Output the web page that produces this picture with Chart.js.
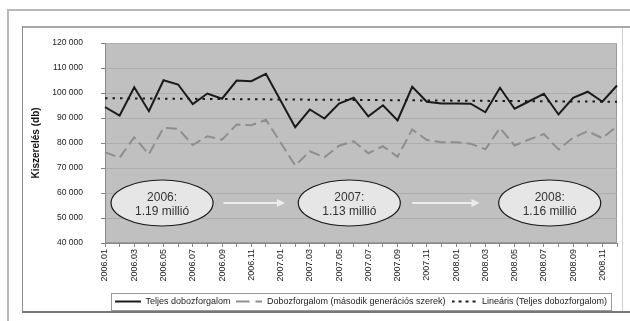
<!DOCTYPE html>
<html lang="hu">
<head>
    <meta charset="UTF-8">
    <title>Kiszerelés</title>
    <script src="https://cdn.jsdelivr.net/npm/chart.js"></script>
    <style>
        body { margin: 0; background: #fff; }
        .wrap { position: relative; width: 630px; height: 321px; overflow: hidden; }
        .line { position: absolute; }
        canvas { position: absolute; left: 0; top: 0; }
    </style>
</head>
<body>
<div class="wrap">
    <!-- outer frame -->
    <div class="line" style="left:7px;top:9px;width:640px;height:2px;background:#b8b8b8"></div>
    <div class="line" style="left:7px;top:9px;width:2px;height:330px;background:#b8b8b8"></div>
    <!-- inner frame -->
    <div class="line" style="left:22px;top:26px;width:620px;height:2px;background:#a8a8a8"></div>
    <div class="line" style="left:22px;top:26px;width:1px;height:287px;background:#8c8c8c"></div>
    <div class="line" style="left:622px;top:28px;width:1px;height:284px;background:#cfcfcf"></div>
    <div class="line" style="left:22px;top:311px;width:620px;height:2px;background:#777"></div>
    <canvas id="chart" width="630" height="321"></canvas>
</div>

<script>
    const months = [
        '2006.01', '2006.02', '2006.03', '2006.04', '2006.05', '2006.06',
        '2006.07', '2006.08', '2006.09', '2006.10', '2006.11', '2006.12',
        '2007.01', '2007.02', '2007.03', '2007.04', '2007.05', '2007.06',
        '2007.07', '2007.08', '2007.09', '2007.10', '2007.11', '2007.12',
        '2008.01', '2008.02', '2008.03', '2008.04', '2008.05', '2008.06',
        '2008.07', '2008.08', '2008.09', '2008.10', '2008.11', '2008.12'
    ];

    // Teljes dobozforgalom
    const total = [
        94400, 91000, 102300, 92700, 105100, 103400, 95600, 99800, 97700, 105000, 104700, 107700,
        97000, 86300, 93400, 89800, 95800, 98100, 90700, 95100, 89000, 102500, 96500, 95800,
        95800, 95700, 92300, 102100, 93700, 96700, 99700, 91400, 98100, 100500, 96500, 103000
    ];

    // Dobozforgalom (második generációs szerek)
    const secondGen = [
        76300, 74100, 82300, 75500, 86100, 85700, 79200, 82700, 81300, 87400, 87100, 89300,
        80200, 71000, 76700, 74300, 78900, 80700, 75900, 78700, 74500, 85400, 81200, 80300,
        80300, 79700, 77500, 86000, 79000, 81400, 83600, 77400, 82100, 84700, 81900, 86700
    ];

    // Lineáris trend, read at first and last month
    const trendEnds = [97900, 96500];

    const yTicks = [40000, 50000, 60000, 70000, 80000, 90000, 100000, 110000, 120000];

    const yearNotes = [
        { year: '2006:', sum: '1.19 millió', at: 3.9 },
        { year: '2007:', sum: '1.13 millió', at: 16.7 },
        { year: '2008:', sum: '1.16 millió', at: 30.4 }
    ];
    const arrowSpans = [[8.1, 12.3], [21.0, 25.6]];

    const font = '"Liberation Sans", Arial, sans-serif';
    const last = months.length - 1;
    const trend = months.map((m, i) => i === 0 ? trendEnds[0] : (i === last ? trendEnds[1] : null));

    function fmt(v) {
        return String(v).replace(/\B(?=(\d{3})+(?!\d))/g, ' ');
    }

    // little line samples for the legend (dash patterns)
    function sample(color, dash) {
        const c = document.createElement('canvas');
        c.width = 26;
        c.height = 4;
        const g = c.getContext('2d');
        g.strokeStyle = color;
        g.lineWidth = 2;
        g.setLineDash(dash);
        g.beginPath();
        g.moveTo(0, 2);
        g.lineTo(26, 2);
        g.stroke();
        return c;
    }
    const samples = [
        sample('#1a1a1a', []),
        sample('#8e8e8e', [13, 6]),
        sample('#1a1a1a', [3, 4])
    ];

    const plotBg = {
        id: 'plotBg',
        beforeDraw(chart) {
            const { ctx, chartArea: a } = chart;
            ctx.save();
            ctx.fillStyle = '#c0c0c0';
            ctx.fillRect(a.left, a.top, a.right - a.left, a.bottom - a.top);
            ctx.strokeStyle = '#9a9a9a';
            ctx.lineWidth = 1;
            ctx.strokeRect(a.left + 0.5, a.top + 0.5, a.right - a.left - 1, a.bottom - a.top - 1);
            ctx.restore();
        }
    };

    const notes = {
        id: 'notes',
        afterDatasetsDraw(chart) {
            const { ctx, scales: { x, y } } = chart;
            const cy = y.getPixelForValue(56000);
            ctx.save();
            // arrows
            ctx.strokeStyle = '#ececec';
            ctx.fillStyle = '#ececec';
            ctx.lineWidth = 2;
            arrowSpans.forEach(([a, b]) => {
                const x1 = x.getPixelForValue(a), x2 = x.getPixelForValue(b);
                ctx.beginPath();
                ctx.moveTo(x1, cy);
                ctx.lineTo(x2 - 6, cy);
                ctx.stroke();
                ctx.beginPath();
                ctx.moveTo(x2, cy);
                ctx.lineTo(x2 - 8, cy - 4);
                ctx.lineTo(x2 - 8, cy + 4);
                ctx.closePath();
                ctx.fill();
            });
            // ellipses
            yearNotes.forEach(n => {
                const cx = x.getPixelForValue(n.at);
                ctx.beginPath();
                ctx.ellipse(cx, cy, 51, 23, 0, 0, Math.PI * 2);
                ctx.fillStyle = '#e6e6e6';
                ctx.fill();
                ctx.strokeStyle = '#1a1a1a';
                ctx.lineWidth = 1.2;
                ctx.stroke();
                ctx.fillStyle = '#333';
                ctx.font = '12px ' + font;
                ctx.textAlign = 'center';
                ctx.textBaseline = 'middle';
                ctx.fillText(n.year, cx, cy - 5);
                ctx.fillText(n.sum, cx, cy + 9);
            });
            ctx.restore();
        }
    };

    const legendFrame = {
        id: 'legendFrame',
        afterDraw(chart) {
            const boxes = chart.legend.legendHitBoxes;
            if (!boxes || !boxes.length) return;
            const left = Math.min(...boxes.map(b => b.left)) - 4;
            const right = Math.max(...boxes.map(b => b.left + b.width)) + 4;
            const top = boxes[0].top - 4;
            const h = boxes[0].height + 8;
            const ctx = chart.ctx;
            ctx.save();
            ctx.strokeStyle = '#9a9a9a';
            ctx.lineWidth = 1;
            ctx.strokeRect(Math.round(left) + 0.5, Math.round(top) + 0.5, Math.round(right - left), h);
            ctx.restore();
        }
    };

    new Chart(document.getElementById('chart'), {
        type: 'line',
        data: {
            labels: months,
            datasets: [
                {
                    label: 'Teljes dobozforgalom',
                    data: total,
                    borderColor: '#1a1a1a',
                    borderWidth: 2,
                    pointRadius: 0,
                    tension: 0
                },
                {
                    label: 'Dobozforgalom (második generációs szerek)',
                    data: secondGen,
                    borderColor: '#8e8e8e',
                    borderWidth: 2,
                    borderDash: [11, 5],
                    pointRadius: 0,
                    tension: 0
                },
                {
                    label: 'Lineáris (Teljes dobozforgalom)',
                    data: trend,
                    spanGaps: true,
                    borderColor: '#1a1a1a',
                    borderWidth: 2,
                    borderDash: [2.5, 5],
                    pointRadius: 0,
                    tension: 0
                }
            ]
        },
        options: {
            responsive: false,
            animation: false,
            devicePixelRatio: 1,
            layout: { padding: { left: 30, right: 13, top: 43, bottom: 5 } },
            plugins: {
                tooltip: { enabled: false },
                legend: {
                    position: 'bottom',
                    fullSize: false,
                    labels: {
                        usePointStyle: true,
                        pointStyleWidth: 26,
                        padding: 6,
                        color: '#222',
                        font: { family: font, size: 9 },
                        generateLabels(chart) {
                            const items = Chart.defaults.plugins.legend.labels.generateLabels(chart);
                            items.forEach((it, i) => { it.pointStyle = samples[i]; });
                            return items;
                        }
                    }
                }
            },
            scales: {
                x: {
                    afterFit(scale) { scale.height = 48; },
                    grid: { drawOnChartArea: false, tickLength: 4, tickColor: '#888' },
                    border: { color: '#888' },
                    ticks: {
                        autoSkip: false,
                        minRotation: 90,
                        maxRotation: 90,
                        padding: 2,
                        color: '#222',
                        font: { family: font, size: 9 },
                        callback: (v, i) => i % 2 === 0 ? months[i] : ''
                    }
                },
                y: {
                    min: yTicks[0],
                    max: yTicks[yTicks.length - 1],
                    afterFit(scale) { scale.width = 75; },
                    afterBuildTicks(scale) { scale.ticks = yTicks.map(v => ({ value: v })); },
                    grid: { color: '#adadad', tickLength: 4, tickColor: '#888' },
                    border: { color: '#888' },
                    title: {
                        display: true,
                        text: 'Kiszerelés (db)',
                        color: '#111',
                        padding: 0,
                        font: { family: font, size: 10, weight: 'bold' }
                    },
                    ticks: {
                        padding: 18,
                        color: '#222',
                        font: { family: font, size: 8.5 },
                        callback: v => fmt(v)
                    }
                }
            }
        },
        plugins: [plotBg, notes, legendFrame]
    });
</script>
</body>
</html>
